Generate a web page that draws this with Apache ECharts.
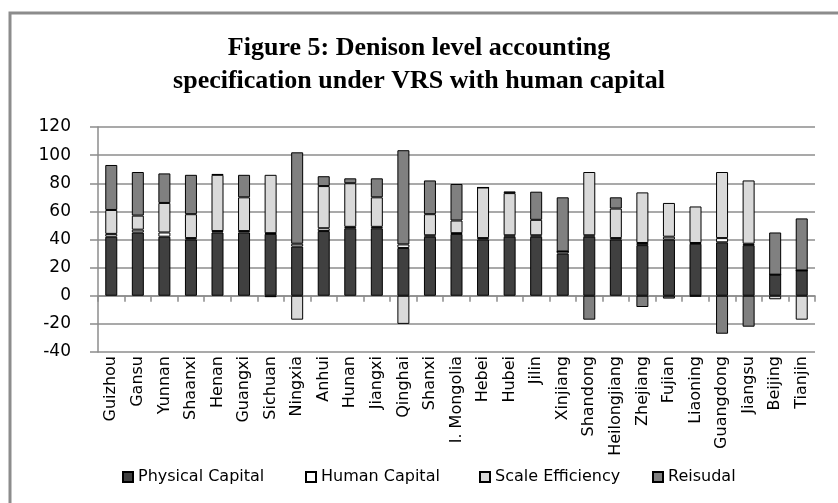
<!DOCTYPE html>
<html><head><meta charset="utf-8">
<script src="https://cdn.jsdelivr.net/npm/echarts@6/dist/echarts.min.js"></script>
<style>html,body{margin:0;padding:0;background:#fff}#c{width:838px;height:503px}</style>
</head><body><div id="c"></div>
<script>
const categories = ['Guizhou','Gansu','Yunnan','Shaanxi','Henan','Guangxi','Sichuan','Ningxia','Anhui','Hunan','Jiangxi','Qinghai','Shanxi','I. Mongolia','Hebei','Hubei','Jilin','Xinjiang','Shandong','Heilongjiang','Zhejiang','Fujian','Liaoning','Guangdong','Jiangsu','Beijing','Tianjin'];
const physical = [42,45,42,40,45,45,44,35,46,48,48,34,42,44,40,42,42,30,42,40,36,40,37,38,36,15,18];
const human    = [2,2,3,1,1,1,0.5,2,2,1,1,2.5,1,0.5,1,1,1,1.5,1,1,1.5,2,0.5,3,1,0,0];
const scale    = [17,10,21,17,40,24,41.5,-17,30,31,21,-20,15,9,36,30,11,0,45,21,36,24,26,47,45,-2.5,-17];
const residual = [32,31,21,28,0.5,16,-1,65,7,3.5,13.5,67,24,26,0,1.2,20,38.5,-17,8,-8,-2,-0.5,-27,-22,30,37];
const seriesNames = ['Physical Capital','Human Capital','Scale Efficiency','Reisudal'];
const titleLines = ['Figure 5: Denison level accounting','specification under VRS with human capital'];
const yTicks = {min:-40, max:120, interval:20};

const colors = ['#404040','#ffffff','#d9d9d9','#808080'];
const datas = [physical, human, scale, residual];
const legendLeft = [117, 300, 474, 647];

const chart = echarts.init(document.getElementById('c'), null, {renderer:'canvas'});
chart.setOption({
  animation:false,
  backgroundColor:'#ffffff',
  graphic:[{type:'rect', shape:{x:10, y:13, width:900, height:600}, style:{fill:'none', stroke:'#8c8c8c', lineWidth:3}, z:-1}],
  title:{text:titleLines.join('\n'), left:'center', top:27,
    textStyle:{fontFamily:'Liberation Serif', fontWeight:'bold', fontSize:26, lineHeight:33, color:'#000'}},
  legend: seriesNames.map((n,i)=>({data:[n], left:legendLeft[i], top:464, itemWidth:10, itemHeight:10, icon:'rect',
    itemGap:4, textStyle:{fontFamily:'DejaVu Sans', fontSize:16, color:'#000'}})),
  grid:{left:98, right:23, top:127, bottom:151},
  xAxis:{type:'category', data:categories,
    axisLine:{lineStyle:{color:'#8c8c8c', width:1.5}},
    axisTick:{show:true, length:6, lineStyle:{color:'#8c8c8c', width:1.5}},
    axisLabel:{rotate:90, interval:0, fontFamily:'DejaVu Sans', fontSize:16, color:'#000', margin:4}},
  yAxis:{type:'value', min:yTicks.min, max:yTicks.max, interval:yTicks.interval,
    axisLine:{show:true, lineStyle:{color:'#8c8c8c', width:1.5}},
    axisTick:{show:true, length:8, lineStyle:{color:'#8c8c8c', width:1.5}},
    splitLine:{lineStyle:{color:'#8c8c8c', width:1.5}},
    axisLabel:{fontFamily:'DejaVu Sans', fontSize:17, color:'#000', margin:27}},
  series: seriesNames.map((n,i)=>({name:n, type:'bar', stack:'t', data:datas[i], barWidth:12,
    itemStyle:{color:colors[i], borderColor:'#000', borderWidth:1}}))
});
</script></body></html>
